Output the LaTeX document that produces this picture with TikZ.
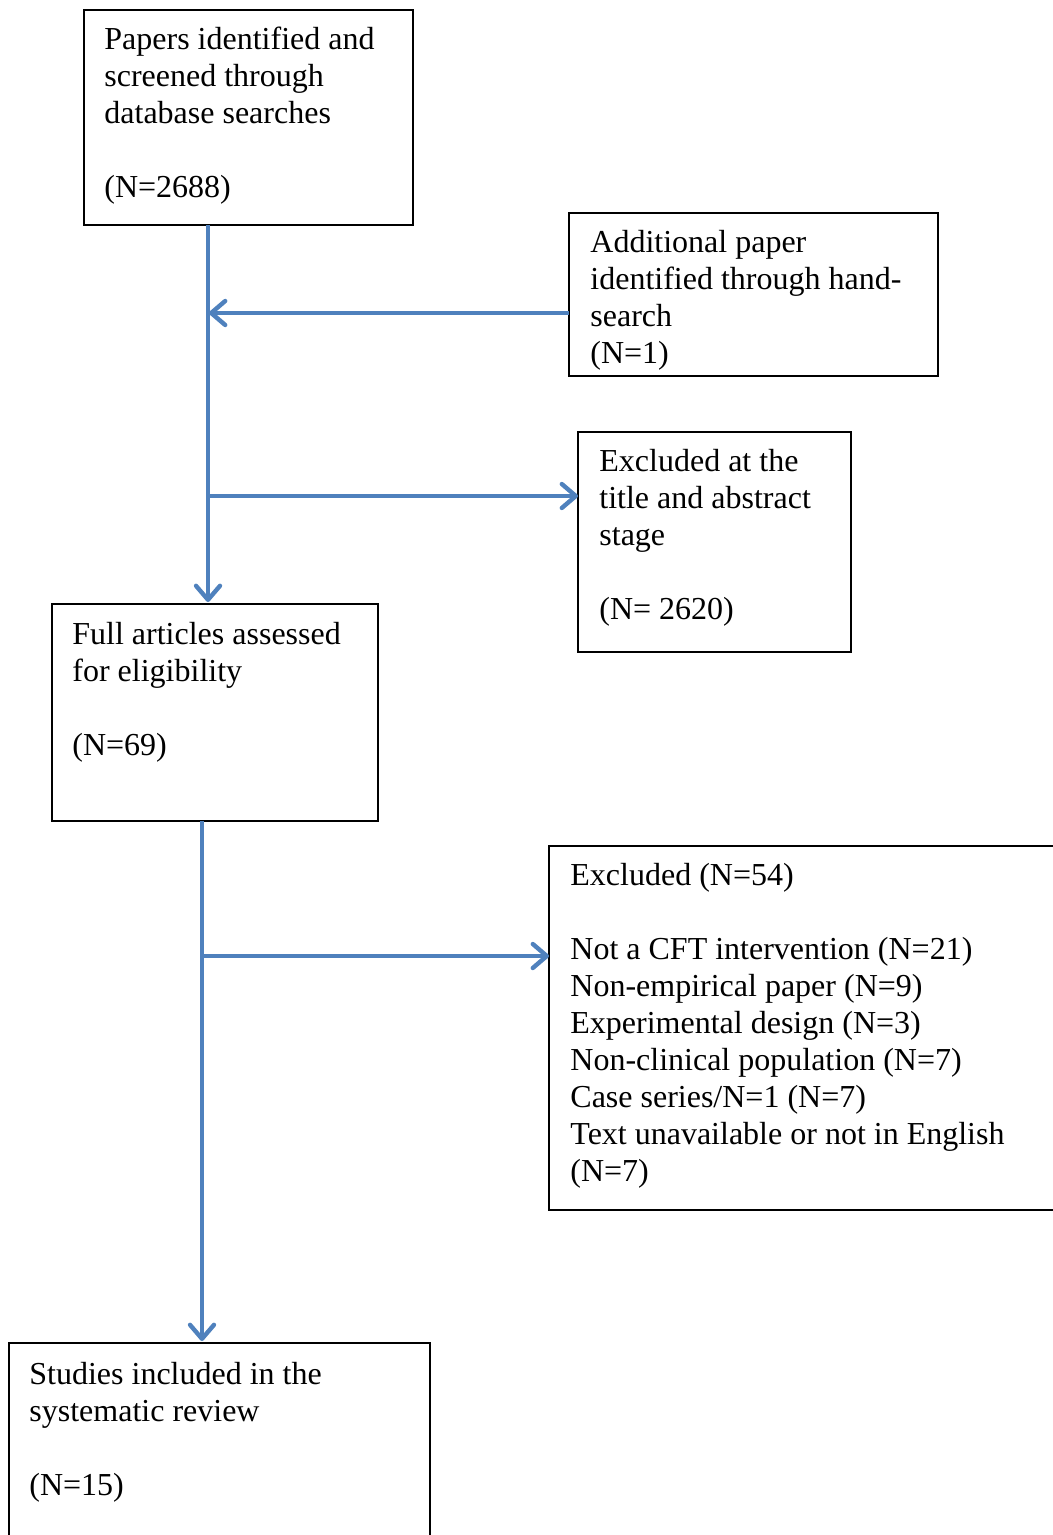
\documentclass[tikz,border=0pt]{standalone}
\usepackage{fontspec}
\setmainfont{Liberation Serif}
\usetikzlibrary{arrows.meta}
\definecolor{flowblue}{RGB}{79,129,189}

\begin{document}
\begin{tikzpicture}[x=0.5pt, y=-0.5pt,
  box/.style={draw, line width=1pt, anchor=north west, inner sep=0pt, outer sep=0pt},
  txt/.style={anchor=north west, inner sep=0pt, align=left,
    font=\fontsize{16pt}{18.5pt}\selectfont},
  flow/.style={draw=flowblue, line width=2pt,
    -{Straight Barb[length=7pt, width=12pt, line width=2.2pt, line cap=round, line join=round]}}]

% Page
\useasboundingbox (0,0) rectangle (1053,1535);

% Boxes
\node[box, minimum width=164.5pt, minimum height=107.5pt] (papers) at (84,10) {};
\node[box, minimum width=184.5pt, minimum height=81.5pt] (handsrch) at (569,213) {};
\node[box, minimum width=136.5pt, minimum height=110pt] (exttl) at (578,432) {};
\node[box, minimum width=163pt, minimum height=108.5pt] (full) at (52,604) {};
\node[box, minimum width=257pt, minimum height=182pt] (exfull) at (549,846) {};
\node[box, minimum width=210.5pt, minimum height=110pt] (incl) at (9,1343) {};

% Texts
\node[txt] (papers-t) at (104,27)
  {Papers identified and\\screened through\\database searches\\[18.5pt](N=2688)};
\node[txt] (handsrch-t) at (590,230)
  {Additional paper\\identified through hand-\\search\\(N=1)};
\node[txt] (exttl-t) at (599,449)
  {Excluded at the\\title and abstract\\stage\\[18.5pt](N= 2620)};
\node[txt] (full-t) at (72,622)
  {Full articles assessed\\for eligibility\\[18.5pt](N=69)};
\node[txt] (exfull-t) at (570,863)
  {Excluded (N=54)\\[18.5pt]Not a CFT intervention (N=21)\\Non-empirical paper (N=9)\\
   Experimental design (N=3)\\Non-clinical population (N=7)\\Case series/N=1 (N=7)\\
   Text unavailable or not in English\\(N=7)};
\node[txt] (incl-t) at (29,1362)
  {Studies included in the\\systematic review\\[18.5pt](N=15)};

% Trunk positions
\coordinate (t1) at (208,0);
\coordinate (t2) at (202,0);
\coordinate (jhand) at (209,313);
\coordinate (jex1) at (208,496);
\coordinate (jex2) at (203,956);

% Arrows
\draw[flow] (papers.south -| t1) -- ([yshift=1pt]full.north -| t1);
\draw[flow] (handsrch.west |- jhand) -- (jhand);
\draw[flow] (jex1) -- (exttl.west |- jex1);
\draw[flow] (full.south -| t2) -- ([yshift=1pt]incl.north -| t2);
\draw[flow] (jex2) -- (exfull.west |- jex2);

\end{tikzpicture}
\end{document}
